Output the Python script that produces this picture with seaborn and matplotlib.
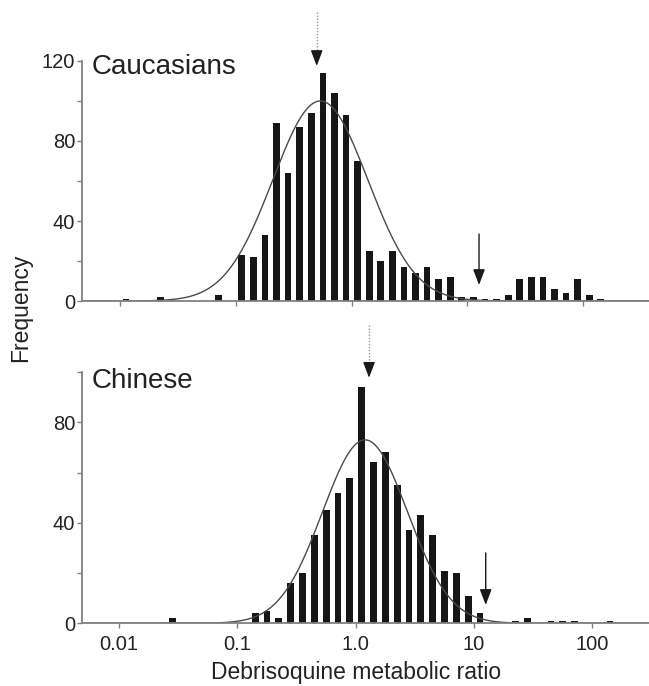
import matplotlib
matplotlib.use("Agg")
import matplotlib.pyplot as plt
import numpy as np
import seaborn as sns
from matplotlib.ticker import NullLocator

# log10(metabolic ratio) bin centres, bins are 0.1 decade wide
cauc_log_mr = [-1.95, -1.65, -1.15, -0.95, -0.85, -0.75, -0.65, -0.55, -0.45, -0.35, -0.25,
               -0.15, -0.05, 0.05, 0.15, 0.25, 0.35, 0.45, 0.55, 0.65, 0.75, 0.85, 0.95,
               1.05, 1.15, 1.25, 1.35, 1.45, 1.55, 1.65, 1.75, 1.85, 1.95, 2.05, 2.15]
cauc_counts = [1, 2, 3, 23, 22, 33, 89, 64, 87, 94, 114,
               104, 93, 70, 25, 20, 25, 17, 14, 17, 11, 12, 2,
               2, 1, 1, 3, 11, 12, 12, 6, 4, 11, 3, 1]

chin_log_mr = [-1.55, -0.85, -0.75, -0.65, -0.55, -0.45, -0.35, -0.25, -0.15, -0.05, 0.05,
               0.15, 0.25, 0.35, 0.45, 0.55, 0.65, 0.75, 0.85, 0.95, 1.05,
               1.35, 1.45, 1.65, 1.75, 1.85, 2.15]
chin_counts = [2, 4, 5, 2, 16, 20, 35, 45, 52, 58, 94,
               64, 68, 55, 37, 43, 35, 21, 20, 11, 4,
               1, 2, 1, 1, 1, 1]

# fitted normal curves on log scale: peak height, mean log MR, sd
cauc_fit = (100, -0.27, 0.41)
chin_fit = (73, 0.08, 0.36)

# arrows: median (dotted) and antimode 12.6 (solid)
cauc_median, chin_median = 0.5, 1.3
antimode = 12.6

x_ticks = [0.01, 0.1, 1, 10, 100]
x_ticklabels = ["0.01", "0.1", "1.0", "10", "100"]

BAR = "#161616"
SPINE = "#808080"
TEXT = "#222222"
EDGES = [round(e, 2) for e in np.arange(-2.0, 2.21, 0.1)]

sns.set_style("ticks")
plt.rcParams["font.family"] = ["Liberation Sans", "DejaVu Sans"]

fig = plt.figure(figsize=(6.49, 6.86), dpi=100)
ax_top = fig.add_axes([0.1256, 0.5612, 0.8744, 0.3499])
ax_bot = fig.add_axes([0.1256, 0.0914, 0.8744, 0.3663])


def arrow(ax, x, y_start, y_tip, head, dotted):
    start = y_start
    if dotted:
        ax.plot([x, x], [y_start, y_tip + head], ls=(0, (1, 1.2)), color="#9a9a9a",
                lw=1.0, clip_on=False)
        start = y_tip + head * 1.05
    ax.annotate("", xy=(x, y_tip), xytext=(x, start), annotation_clip=False,
                arrowprops=dict(arrowstyle="-|>,head_length=0.95,head_width=0.36",
                                mutation_scale=10, lw=1.0, color="#1a1a1a",
                                shrinkA=0, shrinkB=0))


def draw_panel(ax, log_mr, counts, fit, ymax, xlim_log, label, label_y):
    sns.histplot(x=10 ** np.array(log_mr), weights=counts, bins=EDGES, log_scale=True,
                 shrink=0.58, color=BAR, alpha=1, linewidth=0, ax=ax)
    peak, mu, sd = fit
    grid = np.linspace(-2.3, 2.6, 500)
    sns.lineplot(x=10 ** grid, y=peak * np.exp(-0.5 * ((grid - mu) / sd) ** 2),
                 color="#4a4a4a", lw=1.0, ax=ax)

    ax.set_xlim(10 ** xlim_log[0], 10 ** xlim_log[1])
    ax.set_ylim(0, ymax)
    ax.set_xticks(x_ticks)
    ax.set_xticklabels(x_ticklabels)
    ax.xaxis.set_minor_locator(NullLocator())
    ax.set_yticks(list(range(0, ymax + 1, 40)))
    ax.set_yticks(list(range(20, ymax + 1, 40)), minor=True)
    ax.set_xlabel("")
    ax.set_ylabel("")

    ax.spines[["top", "right"]].set_visible(False)
    for s in ("left", "bottom"):
        ax.spines[s].set_color(SPINE)
        ax.spines[s].set_linewidth(1.3)
    ax.tick_params(axis="both", which="both", length=3.6, width=1.0, color=SPINE,
                   labelsize=14.5, labelcolor=TEXT, direction="out")
    ax.tick_params(axis="y", pad=1)
    ax.tick_params(axis="x", pad=5)
    ax.text(0.0185, label_y, label, transform=ax.transAxes, fontsize=20,
            color=TEXT, va="baseline", ha="left")


draw_panel(ax_top, cauc_log_mr, cauc_counts, cauc_fit, 120, (-2.332, 2.568), "Caucasians", 0.946)
draw_panel(ax_bot, chin_log_mr, chin_counts, chin_fit, 100, (-2.317, 2.481), "Chinese", 0.936)
ax_top.tick_params(labelbottom=False)

arrow(ax_top, cauc_median, 144.5, 117.5, 6.5, True)
arrow(ax_top, antimode, 33.5, 8, 6.5, False)
arrow(ax_bot, chin_median, 118.8, 97.7, 4.8, True)
arrow(ax_bot, antimode, 28, 7.3, 4.8, False)

fig.text(0.032, 0.551, "Frequency", rotation=90, fontsize=16.5, color=TEXT,
         ha="center", va="center")
fig.text(0.548, 0.0098, "Debrisoquine metabolic ratio", fontsize=16.5, color=TEXT,
         ha="center", va="baseline")

fig.savefig("out.png", dpi=100)
